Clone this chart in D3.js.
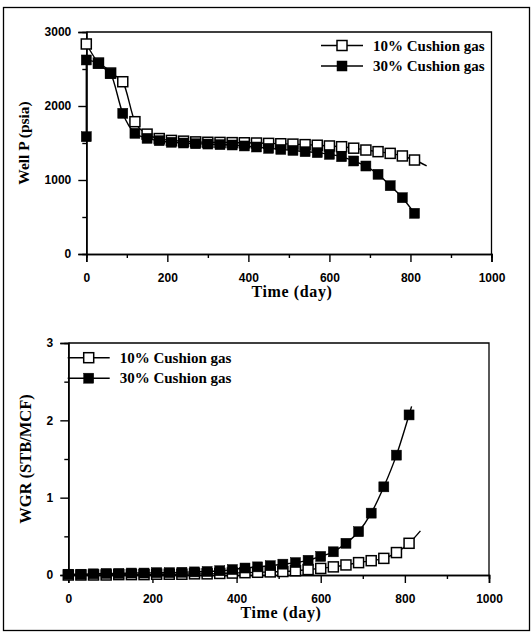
<!DOCTYPE html>
<html><head><meta charset="utf-8">
<script src="https://cdn.jsdelivr.net/npm/d3@7"></script>
<style>
html,body{margin:0;padding:0;background:#fff;}
svg{display:block;}
</style></head>
<body>
<svg id="chart" width="532" height="633"></svg>
<script>
// ---- data ----
const days = [0,30,60,90,120,150,180,210,240,270,300,330,360,390,420,450,480,510,540,570,600,630,660,690,720,750,780,810];
const wellP10 = [2838,2580,2445,2328,1788,1620,1560,1535,1525,1515,1510,1508,1505,1503,1500,1495,1490,1485,1478,1470,1460,1450,1430,1405,1383,1360,1325,1270];
const wellP30 = [2622,2577,2441,1901,1631,1563,1531,1510,1500,1490,1486,1478,1473,1460,1446,1428,1414,1400,1383,1370,1347,1315,1257,1189,1077,923,761,550];
const wellP30Initial = [0,1585];
const wellP10Tail = [840,1190];
const wgr10 = [0.0,0.0,0.0,0.0,0.005,0.005,0.005,0.01,0.01,0.01,0.015,0.015,0.02,0.025,0.03,0.035,0.04,0.045,0.055,0.07,0.085,0.105,0.13,0.16,0.185,0.215,0.29,0.41];
const wgr30 = [0.01,0.01,0.015,0.02,0.02,0.025,0.025,0.03,0.03,0.035,0.04,0.045,0.055,0.07,0.09,0.105,0.12,0.14,0.16,0.19,0.24,0.30,0.41,0.56,0.80,1.14,1.55,2.07];
const wgr10Tail = [837,0.57];
const wgr30Tail = [816,2.18];
const seriesNames = ["10% Cushion gas","30% Cushion gas"];
const xTicks = [0,200,400,600,800,1000];
const xMinor = [100,300,500,700,900];
const pTicks = [0,1000,2000,3000];
const pMinor = [500,1500,2500];
const wTicks = [0,1,2,3];
const wMinor = [0.5,1.5,2.5];

const svg = d3.select("#chart");
const tickFont = "'Liberation Sans', Arial, sans-serif";
const serif = "'Liberation Serif', 'Times New Roman', serif";

// outer frame
svg.append("rect").attr("x",3.5).attr("y",7.5).attr("width",526).attr("height",623)
  .attr("fill","none").attr("stroke","#000").attr("stroke-width",1.3);

function panel(cfg){
  const g = svg.append("g");
  const x = d3.scaleLinear().domain([0,1000]).range(cfg.xr);
  const y = d3.scaleLinear().domain(cfg.yd).range(cfg.yr);
  // frame top & right
  g.append("path").attr("d",`M${cfg.xr[0]},${cfg.yr[1]}H${cfg.xr[1]}V${cfg.yr[0]}`)
    .attr("fill","none").attr("stroke","#000").attr("stroke-width",1.3);
  // minor ticks
  const xm = g.append("g").attr("transform",`translate(0,${cfg.yr[0]})`)
    .call(d3.axisBottom(x).tickValues(xMinor).tickSize(4).tickFormat(""));
  const ym = g.append("g").attr("transform",`translate(${cfg.xr[0]},0)`)
    .call(d3.axisLeft(y).tickValues(cfg.minor).tickSize(4).tickFormat(""));
  const xa = g.append("g").attr("transform",`translate(0,${cfg.yr[0]})`)
    .call(d3.axisBottom(x).tickValues(xTicks).tickSize(8).tickPadding(11).tickFormat(d3.format("d")));
  const ya = g.append("g").attr("transform",`translate(${cfg.xr[0]},0)`)
    .call(d3.axisLeft(y).tickValues(cfg.ticks).tickSize(8).tickPadding(7).tickFormat(d3.format("d")));
  [xm,ym,xa,ya].forEach(a=>{
    a.select(".domain").attr("stroke-width",1.6);
    a.selectAll("line").attr("stroke-width",1.4);
    a.selectAll("text").attr("font-family",tickFont).attr("font-weight","bold").attr("font-size",12).attr("fill","#000");
  });
  // titles
  g.append("text").attr("x",cfg.xTitle[0]).attr("y",cfg.xTitle[1]).attr("text-anchor","middle")
    .attr("font-family",serif).attr("font-weight","bold").attr("font-size",16).attr("letter-spacing",0.6).text("Time (day)");
  g.append("text").attr("transform",`translate(${cfg.yTitle[0]},${cfg.yTitle[1]}) rotate(-90)`).attr("text-anchor","middle")
    .attr("font-family",serif).attr("font-weight","bold").attr("font-size",cfg.yFont).text(cfg.yLabel);

  const line = d3.line().x(d=>x(d[0])).y(d=>y(d[1])).curve(d3.curveMonotoneX);
  const sz = 10;
  cfg.series.forEach((s,i)=>{
    const pts = days.map((d,k)=>[d,s.values[k]]);
    const lpts = s.tail ? pts.concat([s.tail]) : pts;
    g.append("path").datum(lpts).attr("d",line).attr("fill","none").attr("stroke","#000").attr("stroke-width",1.4);
    if(s.extra){
      g.append("path").datum([s.extra,pts[0]]).attr("d",d3.line().x(d=>x(d[0])).y(d=>y(d[1])))
        .attr("fill","none").attr("stroke","#000").attr("stroke-width",1.4);
    }
    const mpts = s.extra ? [s.extra].concat(pts) : pts;
    g.selectAll(null).data(mpts).enter().append("rect")
      .attr("x",d=>x(d[0])-sz/2).attr("y",d=>y(d[1])-sz/2).attr("width",sz).attr("height",sz)
      .attr("fill",s.filled?"#000":"#fff").attr("stroke","#000").attr("stroke-width",s.filled?0.5:1.5);
  });
  // legend
  seriesNames.forEach((n,i)=>{
    const ly = cfg.legend[1] + i*20.5;
    const lx = cfg.legend[0];
    g.append("line").attr("x1",lx-21).attr("x2",lx+21).attr("y1",ly).attr("y2",ly).attr("stroke","#000").attr("stroke-width",1.4);
    const filled = cfg.series[i].filled;
    g.append("rect").attr("x",lx-sz/2).attr("y",ly-sz/2).attr("width",sz).attr("height",sz)
      .attr("fill",filled?"#000":"#fff").attr("stroke","#000").attr("stroke-width",filled?0.5:1.5);
    g.append("text").attr("x",lx+31).attr("y",ly+5).attr("font-family",serif).attr("font-weight","bold")
      .attr("font-size",15).text(n);
  });
}

panel({
  xr:[86.3,491.5], yd:[0,3000], yr:[254,32], ticks:pTicks, minor:pMinor,
  xTitle:[292,297], yTitle:[29,143], yLabel:"Well P (psia)", yFont:15.5, legend:[342,45.5],
  series:[
    {values:wellP10, filled:false, tail:wellP10Tail},
    {values:wellP30, filled:true, extra:wellP30Initial}
  ]
});
panel({
  xr:[68.3,489], yd:[0,3], yr:[575,343], ticks:wTicks, minor:wMinor,
  xTitle:[281,618], yTitle:[31,459], yLabel:"WGR (STB/MCF)", yFont:16.5, legend:[88.7,357.7],
  series:[
    {values:wgr10, filled:false, tail:wgr10Tail},
    {values:wgr30, filled:true, tail:wgr30Tail}
  ]
});
</script>
</body></html>
